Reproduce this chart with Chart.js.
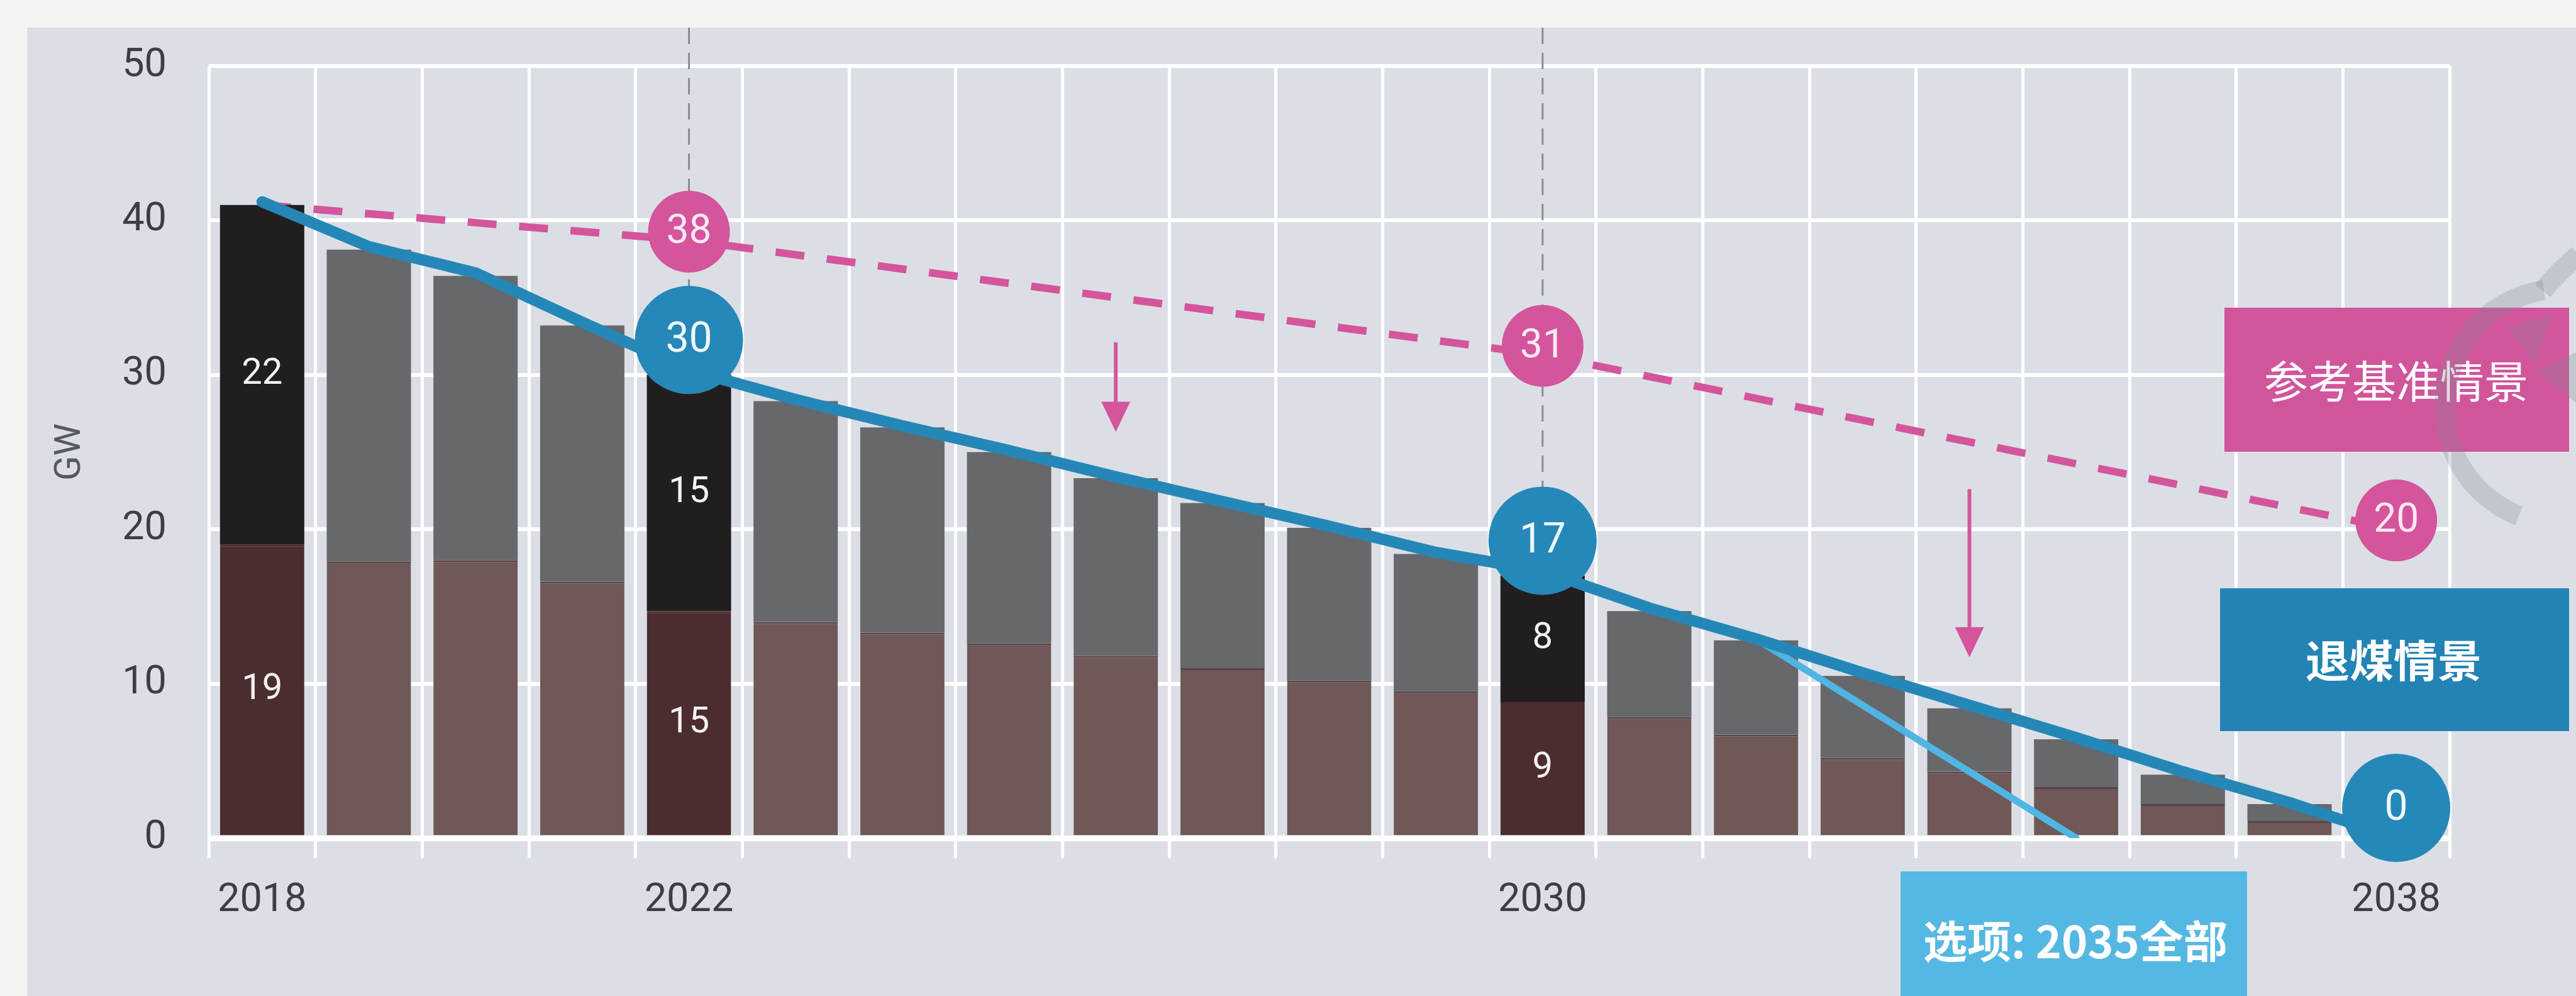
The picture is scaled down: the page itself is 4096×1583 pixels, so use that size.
<!DOCTYPE html>
<html><head><meta charset="utf-8">
<script src="https://cdn.jsdelivr.net/npm/chart.js@4/dist/chart.umd.min.js"></script>
<style>
html,body{margin:0;padding:0;background:#f4f4f2;overflow:hidden;}
canvas{display:block;}
</style></head><body>
<canvas id="c" width="4096" height="1583"></canvas>
<script>
// ---- data ----
const years = ['2018','2019','2020','2021','2022','2023','2024','2025','2026','2027','2028','2029','2030','2031','2032','2033','2034','2035','2036','2037','2038'];
const shownYears = ['2018','2022','2030','2038'];
const highlightYears = ['2018','2022','2030'];
const lowerSegment = [19.0,17.9,18.0,16.6,14.7,14.0,13.3,12.6,11.8,11.0,10.2,9.5,8.8,7.85,6.7,5.2,4.3,3.3,2.2,1.1,0];
const upperSegment = [22.0,20.2,18.4,16.6,15.3,14.3,13.3,12.4,11.5,10.7,9.9,8.9,8.2,6.85,6.1,5.3,4.1,3.1,1.9,1.1,0];
const phaseOut = [41.2,38.3,36.6,33.4,30.3,28.4,26.7,25.1,23.4,21.8,20.2,18.5,17.3,14.9,12.9,10.7,8.6,6.5,4.3,2.3,0];
const option2035 = [null,null,null,null,null,null,null,null,null,null,null,null,null,null,12.9,null,null,0,null,null,null];
const reference = [41,null,null,null,38.7,null,null,null,null,null,null,null,31.3,null,null,null,null,null,null,null,20];
const circleYears = ['2022','2030','2038'];
const referenceCircleText = ['38','31','20'];
const phaseOutCircleText = ['30','17','0'];
const dashYears = ['2022','2030'];
const arrowYears = ['2026','2034'];
const arrowFrom = [32.1,22.6];
const arrowTo = [26.3,11.7];
const yTicks = [0,10,20,30,40,50];

// ---- colours ----
const C = {
  outer:'#f4f4f2', panel:'#dbdfe5', grid:'#ffffff',
  lower:'#6f5857', lowerHi:'#4b2c2f', lowerEdge:'#584546',
  upper:'#67686b', upperHi:'#221e1f',
  pink:'#d4559c', blue:'#2587b8', light:'#4fb5e2', dash:'#8a8d92', text:'#3b3e44'
};
const isHi = i => highlightYears.includes(years[i]);
const FONT = 'Roboto, "DejaVu Sans", sans-serif';
const CJK = '"Noto Sans CJK SC", sans-serif';

const bgPlugin = {
  id:'bg',
  beforeDraw(chart){
    const ctx = chart.ctx;
    ctx.save();
    ctx.fillStyle = C.outer; ctx.fillRect(0,0,chart.width,chart.height);
    ctx.fillStyle = C.panel; ctx.fillRect(43,44,chart.width-43,chart.height-44);
    ctx.restore();
  }
};

function circle(ctx,x,y,r,fill,txt,fs,tcol){
  ctx.beginPath(); ctx.arc(x,y,r,0,Math.PI*2); ctx.fillStyle = fill; ctx.fill();
  ctx.fillStyle = tcol; ctx.font = '400 '+fs+'px '+FONT;
  ctx.textAlign='center'; ctx.textBaseline='middle';
  ctx.fillText(txt,x,y+2);
}

const annoPlugin = {
  id:'anno',
  afterDatasetsDraw(chart){
    const {ctx, scales:{x,y}} = chart;
    const idx = yr => years.indexOf(yr);
    ctx.save();
    // dashed verticals
    ctx.strokeStyle = C.dash; ctx.lineWidth = 3; ctx.setLineDash([26,14]);
    dashYears.forEach(yr=>{
      const i = idx(yr), px = x.getPixelForValue(i);
      ctx.beginPath(); ctx.moveTo(px,44); ctx.lineTo(px,y.getPixelForValue(phaseOut[i])-48); ctx.stroke();
    });
    ctx.setLineDash([]);
    // arrows
    ctx.strokeStyle = C.pink; ctx.fillStyle = C.pink; ctx.lineWidth = 6;
    arrowYears.forEach((yr,k)=>{
      const px = x.getPixelForValue(idx(yr));
      const y0 = y.getPixelForValue(arrowFrom[k]), y1 = y.getPixelForValue(arrowTo[k]);
      ctx.beginPath(); ctx.moveTo(px,y0); ctx.lineTo(px,y1-40); ctx.stroke();
      ctx.beginPath(); ctx.moveTo(px-23,y1-48); ctx.lineTo(px+23,y1-48); ctx.lineTo(px,y1); ctx.closePath(); ctx.fill();
    });
    // segment labels on highlighted bars
    ctx.fillStyle = '#f4f2f2'; ctx.font = '400 58px '+FONT; ctx.textAlign='center'; ctx.textBaseline='middle';
    [0,1].forEach(d=>{
      const meta = chart.getDatasetMeta(d);
      highlightYears.forEach(yr=>{
        const i = idx(yr), el = meta.data[i], v = chart.data.datasets[d].data[i];
        ctx.fillText(String(Math.round(v)), el.x, (el.y+el.base)/2);
      });
    });
    // circles
    circleYears.forEach((yr,k)=>{
      const i = idx(yr), px = x.getPixelForValue(i);
      circle(ctx,px,y.getPixelForValue(reference[i])-14,65,C.pink,referenceCircleText[k],64,'#fde8f2');
      circle(ctx,px,y.getPixelForValue(phaseOut[i])-48,86,'#2688b9',phaseOutCircleText[k],66,'#eef7fc');
    });
    ctx.restore();
  },
  afterDraw(chart){
    const ctx = chart.ctx;
    ctx.save();
    function box(x,y,w,h,fill,txt,weight,tx,ty){
      ctx.fillStyle = fill; ctx.fillRect(x,y,w,h);
      ctx.fillStyle = '#ffffff'; ctx.font = weight+' 70px '+CJK;
      ctx.textAlign='center'; ctx.textBaseline='middle';
      ctx.fillText(txt,tx,ty);
    }
    box(3537,489,548,229,'#d1559b','参考基准情景','400',3810,606);
    box(3530,935,555,227,'#2383b4','退煤情景','700',3806,1050);
    box(3022,1385,551,198,'#55b8e3','选项: 2035全部','700',3300,1496);
    // watermark (partial logo at the right edge)
    const wm = 'rgba(130,136,148,0.28)';
    ctx.strokeStyle = wm; ctx.lineWidth = 32; ctx.lineCap = 'butt';
    ctx.beginPath(); ctx.arc(4074,646,187,Math.PI*0.62,Math.PI*1.45); ctx.stroke();
    ctx.beginPath(); ctx.moveTo(4043,462); ctx.quadraticCurveTo(4070,430,4100,405); ctx.stroke();
    ctx.fillStyle = wm;
    ctx.beginPath(); ctx.moveTo(3985,520); ctx.lineTo(4060,500); ctx.lineTo(4030,575); ctx.closePath(); ctx.fill();
    ctx.beginPath(); ctx.moveTo(4030,590); ctx.lineTo(4096,560); ctx.lineTo(4096,640); ctx.closePath(); ctx.fill();
    ctx.restore();
  }
};

const barColors = (base,hi) => years.map((_,i)=> isHi(i)?hi:base);

new Chart(document.getElementById('c'), {
  type:'bar',
  data:{
    labels: years,
    datasets:[
      {label:'lower', data: lowerSegment, backgroundColor: barColors(C.lower,C.lowerHi),
       borderColor: barColors(C.lowerEdge,C.lowerHi), borderWidth:{top:3,left:0,right:0,bottom:0}, borderSkipped:false,
       stack:'coal', order:3, barPercentage:0.79, categoryPercentage:1},
      {label:'upper', data: upperSegment, backgroundColor: barColors(C.upper,C.upperHi), borderWidth:0,
       stack:'coal', order:3, barPercentage:0.79, categoryPercentage:1},
      {type:'line', label:'reference', data: reference, borderColor: C.pink, borderWidth:12, borderDash:[46,36],
       spanGaps:true, pointRadius:0, tension:0, fill:false, stack:'ref', order:5},
      {type:'line', label:'option2035', data: option2035, borderColor: C.light, borderWidth:11, borderCapStyle:'round',
       spanGaps:true, pointRadius:0, tension:0, fill:false, stack:'opt', order:1},
      {type:'line', label:'phaseOut', data: phaseOut, borderColor: C.blue, borderWidth:18, borderCapStyle:'round', borderJoinStyle:'round',
       pointRadius:0, tension:0, fill:false, stack:'phase', order:0}
    ]
  },
  options:{
    responsive:false, animation:false, devicePixelRatio:1,
    layout:{padding:{left:0, top:101, right:201, bottom:0}},
    plugins:{legend:{display:false}, tooltip:{enabled:false}},
    scales:{
      x:{
        stacked:true, offset:true,
        grid:{color:C.grid, lineWidth:5, offset:true, drawTicks:true, tickLength:32, tickColor:C.grid, tickWidth:5},
        border:{display:false},
        ticks:{autoSkip:false, maxRotation:0, padding:30, color:C.text, font:{family:FONT, size:63, weight:'400'},
          callback:(v,i)=> shownYears.includes(years[i]) ? years[i] : ''},
        afterFit:(s)=>{ s.height = 251; }
      },
      y:{
        stacked:true, min:0, max:50,
        afterBuildTicks:(s)=>{ s.ticks = yTicks.map(v=>({value:v})); },
        grid:{color:C.grid, lineWidth:(c)=> c.tick && c.tick.value===0 ? 9 : 6, drawTicks:false},
        border:{display:false},
        ticks:{padding:67, color:C.text, font:{family:FONT, size:63, weight:'400'}},
        title:{display:true, text:'GW', color:'#55595e', font:{family:FONT, size:58, weight:'400'}, padding:{top:78,bottom:0}},
        afterFit:(s)=>{ s.width = 332; }
      }
    }
  },
  plugins:[bgPlugin, annoPlugin]
});
</script>
</body></html>
